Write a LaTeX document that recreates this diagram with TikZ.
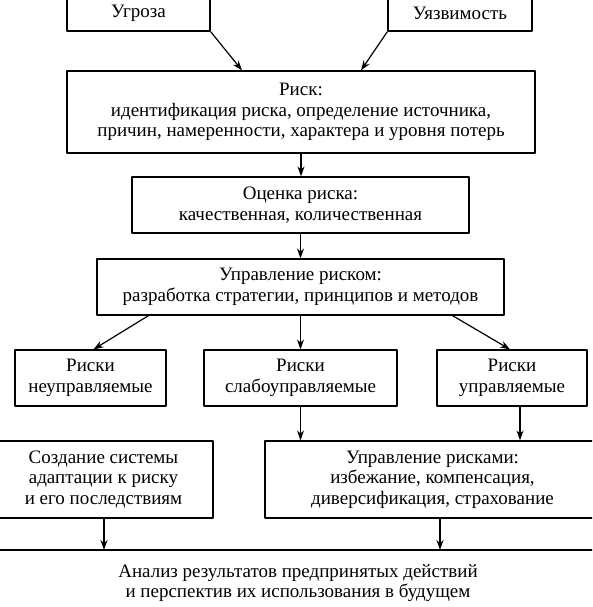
\documentclass[tikz,border=0pt]{standalone}
\usepackage{fontspec}
\setmainfont{Liberation Serif}
\usetikzlibrary{arrows.meta}
\tikzset{
  box/.style={draw, line width=1.2pt, inner sep=0pt, align=center, font=\fontsize{19}{20.5}\selectfont},
  txt/.style={inner sep=0pt, align=center, font=\fontsize{19}{20.5}\selectfont},
}
\begin{document}
\begin{tikzpicture}[x=1pt,y=-1pt,line join=round,>={Stealth[length=10pt,width=7pt]},line width=1.2pt]
	\clip (0,0) rectangle (592,607);
	% upper part
	\node[box, minimum width=143, minimum height=36] (ugroza) at (138.5,13) {Угроза};
	\node[box, minimum width=144, minimum height=36] (uyazv) at (460,13) {Уязвимость};
	\node[box, minimum width=468, minimum height=82] (risk) at (301,112) {Риск:\\идентификация риска, определение источника,\\причин, намеренности, характера и уровня потерь};
	\node[box, minimum width=337, minimum height=56] (ocenka) at (300.5,205) {Оценка риска:\\качественная, количественная};
	\node[box, minimum width=407, minimum height=56] (upravl) at (300.5,287) {Управление риском:\\разработка стратегии, принципов и методов};
	% three kinds of risks
	\node[box, minimum width=151, minimum height=56] (neupr) at (90.5,378) {Риски\\неуправляемые};
	\node[box, minimum width=193, minimum height=56] (slabo) at (300.5,378) {Риски\\слабоуправляемые};
	\node[box, minimum width=150, minimum height=56] (upr) at (512,378) {Риски\\управляемые};
	% lower part
	\node[box, minimum width=219, minimum height=77] (sozd) at (103.5,479.5) {Создание системы\\адаптации к риску\\и его последствиям};
	\node[box, minimum width=335, minimum height=77] (uprisk) at (432.5,479.5) {Управление рисками:\\избежание, компенсация,\\диверсификация, страхование};
	\draw (-10,550) coordinate (L) -- (610,550) coordinate (R);
	\node[txt] (analiz) at (298,583) {Анализ результатов предпринятых действий\\и перспектив их использования в будущем};
	% arrows
	\draw[->] (ugroza.south east) -- ([xshift=-59pt]risk.north);
	\draw[->] (uyazv.south west) -- ([xshift=60pt]risk.north);
	\draw[->] (risk.south) -- (risk.south |- ocenka.north);
	\draw[->] (ocenka.south) -- (ocenka.south |- upravl.north);
	\draw[->] ([xshift=-152pt]upravl.south) -- ([xshift=3pt]neupr.north);
	\draw[->] (upravl.south) -- (upravl.south |- slabo.north);
	\draw[->] ([xshift=152pt]upravl.south) -- ([xshift=-2pt]upr.north);
	\draw[->] (slabo.south) -- (slabo.south |- uprisk.north);
	\draw[->] ([xshift=8pt]upr.south) -- ([xshift=8pt]upr.south |- uprisk.north);
	\draw[->] ([xshift=0.5pt]sozd.south) -- ([xshift=0.5pt]sozd.south |- L);
	\draw[->] ([xshift=7.5pt]uprisk.south) -- ([xshift=7.5pt]uprisk.south |- L);
\end{tikzpicture}
\end{document}
